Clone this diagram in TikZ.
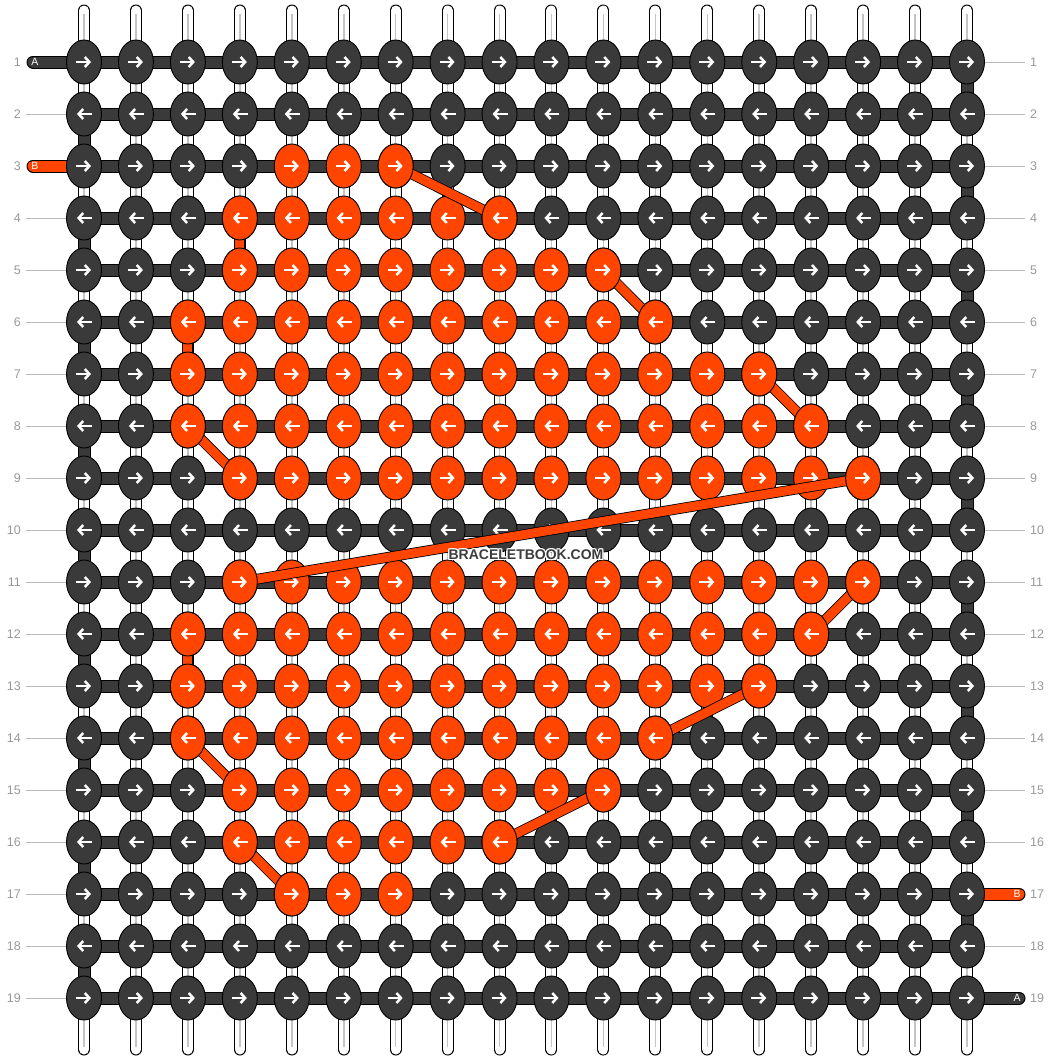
\documentclass[tikz,border=0pt]{standalone}
\usepackage{fontspec}
\setmainfont{Liberation Sans}
\usetikzlibrary{shapes.geometric,arrows.meta}
\definecolor{knotdark}{HTML}{3A3A3A}
\definecolor{knotor}{HTML}{FF4500}
\definecolor{numgray}{HTML}{999999}
\definecolor{linegray}{HTML}{BBBBBB}
\definecolor{tubegray}{HTML}{C4C4C4}
\definecolor{wmgray}{HTML}{3C3C3C}
\pgfdeclarelayer{paper}
\pgfdeclarelayer{tubes}
\pgfdeclarelayer{bars}
\pgfdeclarelayer{links}
\pgfdeclarelayer{ends}
\pgfsetlayers{paper,tubes,bars,main,links,ends}
\tikzset{
  knot/.style={ellipse, draw=black, line width=0.9pt, minimum width=35pt, minimum height=44pt, inner sep=0pt},
  knotarrow/.style={white, line width=2.5pt, -{Straight Barb[length=4.5pt,width=10pt]}},
  rowbar/.style={fill=knotdark, draw=black, line width=0.6pt},
  linkout/.style={black, line width=10.6pt},
  linkin/.style={knotor, line width=9pt},
  tubeout/.style={black, line width=12pt, line cap=round},
  tubein/.style={white, line width=10pt, line cap=round},
  tubemid/.style={tubegray, line width=1.6pt},
  rownum/.style={text=numgray, font=\fontsize{12.5}{14}\selectfont, inner sep=0pt},
  rowline/.style={linegray, line width=0.9pt},
  stublabel/.style={text=white, font=\fontsize{10.5}{12}\selectfont, inner sep=0pt},
  wmtext/.style={font=\bfseries\fontsize{14}{16}\selectfont, inner sep=0pt},
}
\newcommand\drawknot[4]{%
  \pgfmathsetmacro\KX{84+(#3-1)*51.941}%
  \pgfmathsetmacro\KY{62+(#2-1)*52}%
  \node[knot, fill=#4] (#1) at (\KX,\KY) {};
  \ifodd#2\relax
    \draw[knotarrow] ([xshift=-8pt]#1.center) -- ([xshift=7pt]#1.center);
  \else
    \draw[knotarrow] ([xshift=8pt]#1.center) -- ([xshift=-7pt]#1.center);
  \fi}
\newcommand\knotlink[4]{%
  \draw[linkout] (k#1-#2.center) -- (k#3-#4.center);
  \draw[linkin] (k#1-#2.center) -- (k#3-#4.center);}
\newcommand\linkends[4]{%
  \drawknot{ea#1-#2-#3-#4}{#1}{#2}{knotor}%
  \drawknot{eb#1-#2-#3-#4}{#3}{#4}{knotor}}
\begin{document}
\begin{tikzpicture}[x=1pt,y=-1pt]
\begin{pgfonlayer}{paper}
\fill[white] (0,0) rectangle (1052,1060);
\end{pgfonlayer}
\useasboundingbox (0,0) rectangle (1052,1060);
% knots
\foreach \r/\lo/\hi in {1/0/0,2/0/0,3/5/7,4/4/9,5/4/11,6/3/12,7/3/14,8/3/15,9/4/16,10/0/0,11/4/16,12/3/15,13/3/14,14/3/12,15/4/11,16/4/9,17/5/7,18/0/0,19/0/0}{
  \foreach \c in {1,...,18}{
    \def\kc{knotdark}%
    \ifnum\c<\lo\relax\else\ifnum\c>\hi\relax\else\def\kc{knotor}\fi\fi
    \drawknot{k\r-\c}{\r}{\c}{\kc}
  }
}
% vertical strings
\begin{pgfonlayer}{tubes}
\foreach \c in {1,...,18}{
  \pgfmathsetmacro\KX{84+(\c-1)*51.941}
  \coordinate (t\c) at (\KX,10.5);
  \coordinate (b\c) at (\KX,1049.5);
  \draw[tubeout] (t\c) -- (b\c);
  \draw[tubein] (t\c) -- (b\c);
  \draw[tubemid] ([yshift=-3pt]t\c) -- ([yshift=3pt]b\c);
}
\end{pgfonlayer}
% horizontal bars, turns, stubs, row numbers
\begin{pgfonlayer}{bars}
\foreach \r in {1,...,19}{
  \draw[rowbar] ([yshift=-6pt]k\r-1.center) rectangle ([yshift=6pt]k\r-18.center);
}
\foreach \r in {1,...,18}{
  \pgfmathtruncatemacro\rr{\r+1}
  \ifodd\r\relax
    \draw[rowbar] ([xshift=-6pt]k\r-18.center) rectangle ([xshift=6pt]k\rr-18.center);
  \else
    \draw[rowbar] ([xshift=-6pt]k\r-1.center) rectangle ([xshift=6pt]k\rr-1.center);
  \fi
}
\foreach \r in {1,...,19}{
  \pgfmathsetmacro\KY{62+(\r-1)*52}
  \node[rownum, anchor=east] (nl\r) at (21,\KY) {\r};
  \node[rownum, anchor=west] (nr\r) at (1030,\KY) {\r};
}
\foreach \r in {2,4,5,6,7,8,9,10,11,12,13,14,15,16,17,18,19}{
  \pgfmathsetmacro\KY{62+(\r-1)*52}
  \coordinate (ll\r) at (26,\KY);
  \draw[rowline] (ll\r) -- (k\r-1);
}
\foreach \r in {1,...,16,18}{
  \pgfmathsetmacro\KY{62+(\r-1)*52}
  \coordinate (rl\r) at (1025,\KY);
  \draw[rowline] (rl\r) -- (k\r-18);
}
\coordinate (sA1) at (33,62);
\coordinate (sB3) at (33,166);
\coordinate (sB17) at (1019,894);
\coordinate (sA19) at (1019,998);
\draw[black, line width=13pt, line cap=round] (sA1) -- (k1-1.center);
\draw[knotdark, line width=11pt, line cap=round] (sA1) -- (k1-1.center);
\draw[black, line width=13pt, line cap=round] (sB3) -- (k3-1.center);
\draw[knotor, line width=11pt, line cap=round] (sB3) -- (k3-1.center);
\draw[black, line width=13pt, line cap=round] (sB17) -- (k17-18.center);
\draw[knotor, line width=11pt, line cap=round] (sB17) -- (k17-18.center);
\draw[black, line width=13pt, line cap=round] (sA19) -- (k19-18.center);
\draw[knotdark, line width=11pt, line cap=round] (sA19) -- (k19-18.center);
\node[stublabel] (lA1) at (35,62) {A};
\node[stublabel] (lB3) at (35,166) {B};
\node[stublabel] (lB17) at (1017,894) {B};
\node[stublabel] (lA19) at (1017,998) {A};
\end{pgfonlayer}
% B links
\begin{pgfonlayer}{links}
\foreach \a/\b/\cc/\d in {3/7/4/9,4/4/5/4,5/11/6/12,6/3/7/3,7/14/8/15,8/3/9/4,9/16/11/4,11/16/12/15,12/3/13/3,13/14/14/12,14/3/15/4,15/11/16/9,16/4/17/5}{
  \knotlink{\a}{\b}{\cc}{\d}
}
\end{pgfonlayer}
\begin{pgfonlayer}{ends}
\foreach \a/\b/\cc/\d in {3/7/4/9,4/4/5/4,5/11/6/12,6/3/7/3,7/14/8/15,8/3/9/4,9/16/11/4,11/16/12/15,12/3/13/3,13/14/14/12,14/3/15/4,15/11/16/9,16/4/17/5}{
  \linkends{\a}{\b}{\cc}{\d}
}
\foreach \dx/\dy [count=\i] in {-1/0,1/0,0/-1,0/1,-1/-1,1/1,-1/1,1/-1}{
  \node[wmtext, text=white] (wh\i) at (526+\dx,555+\dy) {BRACELETBOOK.COM};
}
\node[wmtext, text=wmgray] (wm) at (526,555) {BRACELETBOOK.COM};
\end{pgfonlayer}
\end{tikzpicture}
\end{document}
